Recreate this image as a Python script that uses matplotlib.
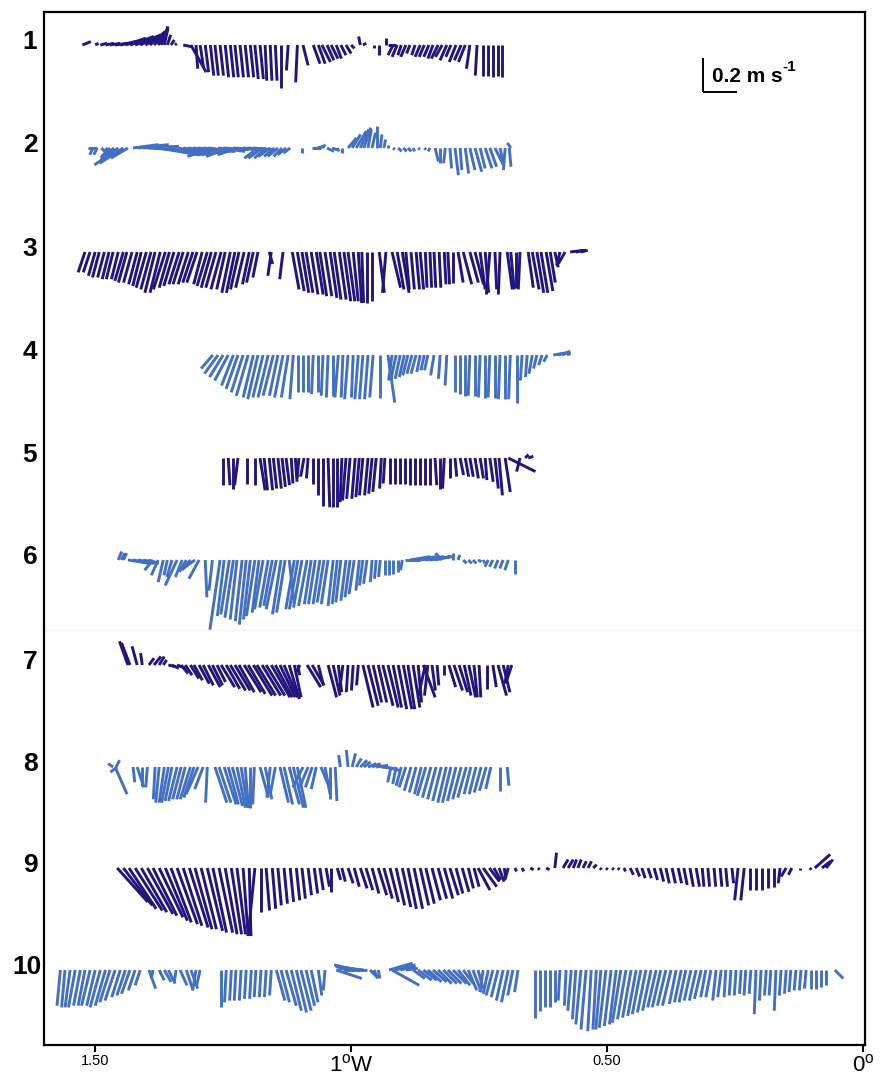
import matplotlib
matplotlib.use("Agg")
import matplotlib.pyplot as plt
from matplotlib.collections import LineCollection

plt.rcParams['font.family'] = ['Liberation Sans', 'DejaVu Sans']
plt.rcParams['mathtext.fontset'] = 'custom'
plt.rcParams['mathtext.rm'] = 'Liberation Sans'
plt.rcParams['mathtext.bf'] = 'Liberation Sans:bold'

# Current vectors along each transect: (longitude in deg W, u east cm/s, v north cm/s)
T1 = [(1.525,5,2),(1.500,2,1),(1.490,4,1),(1.480,5,1),(1.471,6,1),(1.461,7,1),(1.451,9,2),(1.441,12,4),
      (1.432,14,5),(1.422,13,5),(1.412,12,6),(1.402,11,6),(1.393,9,8),(1.385,8,9),(1.377,6,10),(1.371,4,11),
      (1.365,2,9),(1.359,2,6),(1.352,2,3),(1.344,1,1),(1.328,5,-1),(1.313,9,-16),(1.303,1,-14),(1.295,2,-13),
      (1.285,2,-16),(1.275,2,-18),(1.266,2,-18),(1.256,2,-18),(1.246,2,-19),(1.236,2,-19),(1.227,2,-19),
      (1.217,2,-19),(1.207,2,-19),(1.197,2,-19),(1.188,2,-20),(1.178,2,-20),(1.168,1,-21),(1.158,1,-21),
      (1.148,1,-21),(1.137,0,-25),(1.123,-1,-15),(1.105,-1,-22),(1.094,3,-12),(1.074,4,-11),(1.064,4,-11),
      (1.057,5,-10),(1.047,4,-9),(1.039,4,-8),(1.029,3,-8),(1.020,3,-6),(1.010,3,-5),(1.000,2,-2),
      (0.982,-1,5),(0.977,2,1),(0.955,0,-2),(0.945,0,-6),(0.932,0,4),(0.928,5,0),(0.918,-3,-6),(0.910,-3,-7),
      (0.902,-2,-6),(0.893,-3,-7),(0.885,-2,-5),(0.875,-2,-6),(0.865,-3,-7),(0.857,-3,-7),(0.848,-3,-7),
      (0.840,-3,-8),(0.830,-4,-8),(0.822,-4,-7),(0.813,-4,-9),(0.805,-3,-7),(0.795,-4,-10),(0.785,-4,-9),
      (0.777,-4,-10),(0.768,-2,-14),(0.754,-1,-18),(0.742,0,-18),(0.732,0,-18),(0.723,0,-19),(0.713,0,-18),
      (0.705,0,-19)]

T2 = [(1.514,5,0),(1.504,-2,-4),(1.496,-2,-4),(1.488,3,-3),(1.480,4,-4),(1.471,-5,-5),(1.463,-8,-6),
      (1.455,-14,-10),(1.445,-14,-9),(1.436,-10,-6),(1.426,15,2),(1.416,18,2),(1.406,21,1),(1.396,22,-1),
      (1.387,24,-2),(1.377,24,-4),(1.367,22,-4),(1.357,21,-4),(1.348,21,-4),(1.338,20,-4),(1.328,19,-3),
      (1.318,19,-3),(1.309,19,-2),(1.299,18,-2),(1.289,18,-2),(1.279,16,-2),(1.270,-15,-5),(1.260,16,-2),
      (1.250,15,-1),(1.240,-13,-5),(1.230,15,-1),(1.221,-12,-4),(1.211,14,-1),(1.201,13,-1),(1.191,12,-1),
      (1.182,-8,-6),(1.174,-8,-6),(1.166,-7,-6),(1.158,-7,-5),(1.150,-6,-5),(1.143,-6,-5),(1.135,-5,-5),
      (1.127,-5,-4),(1.119,-4,-3),(1.096,0,-3),(1.076,5,0),(1.066,4,1),(1.057,2,2),(1.047,4,-2),(1.037,3,-1),
      (1.027,1,-2),(1.018,0,-3),(1.006,5,6),(0.998,5,8),(0.990,6,10),(0.982,5,11),(0.975,4,12),(0.967,2,11),
      (0.959,2,9),(0.949,0,13),(0.943,1,8),(0.936,1,5),(0.928,0,2),(0.918,1,-1),(0.908,2,-2),(0.898,2,-2),
      (0.889,2,-2),(0.879,1,-2),(0.869,1,-1),(0.857,1,-1),(0.846,-1,-2),(0.836,2,-8),(0.826,0,-9),
      (0.816,-1,-9),(0.807,1,-12),(0.797,2,-16),(0.787,1,-13),(0.777,2,-15),(0.768,3,-13),(0.758,4,-14),
      (0.748,3,-12),(0.738,4,-12),(0.729,4,-11),(0.719,5,-10),(0.709,2,-9),(0.699,-1,-13),(0.691,1,-11),
      (0.688,-2,3)]

T3 = [(1.520,-4,-12),(1.510,-4,-12),(1.500,-4,-14),(1.492,-4,-15),(1.482,-4,-15),(1.473,-4,-16),
      (1.465,-4,-16),(1.455,-4,-16),(1.445,-5,-17),(1.438,-5,-18),(1.428,-5,-18),(1.418,-5,-19),
      (1.410,-5,-20),(1.400,-6,-21),(1.391,-6,-22),(1.383,-6,-24),(1.373,-6,-24),(1.363,-7,-22),
      (1.355,-6,-21),(1.346,-6,-20),(1.336,-6,-19),(1.328,-6,-19),(1.318,-6,-19),(1.309,-6,-18),
      (1.301,-6,-18),(1.291,-5,-19),(1.281,-6,-20),(1.273,-6,-21),(1.264,-6,-21),(1.254,-6,-22),
      (1.246,-5,-22),(1.236,-5,-24),(1.227,-5,-24),(1.219,-5,-22),(1.209,-5,-21),(1.199,-4,-19),
      (1.191,-4,-18),(1.182,-3,-15),(1.160,2,-7),(1.156,-2,-14),(1.133,-2,-16),(1.115,4,-22),(1.105,4,-23),
      (1.096,4,-24),(1.088,4,-24),(1.078,4,-25),(1.068,4,-25),(1.061,4,-26),(1.051,4,-26),(1.041,4,-27),
      (1.033,4,-28),(1.023,4,-28),(1.014,4,-29),(1.006,4,-29),(0.996,3,-29),(0.986,2,-30),(0.979,1,-30),
      (0.969,0,-30),(0.959,0,-29),(0.945,3,-24),(0.932,-2,-24),(0.920,5,-21),(0.910,4,-22),(0.900,4,-24),
      (0.893,2,-22),(0.883,2,-22),(0.873,2,-22),(0.865,2,-22),(0.855,1,-21),(0.846,1,-21),(0.838,1,-21),
      (0.828,1,-21),(0.818,1,-19),(0.811,1,-19),(0.801,0,-18),(0.791,3,-18),(0.781,5,-19),(0.768,5,-18),
      (0.758,5,-19),(0.748,3,-22),(0.738,2,-24),(0.729,-2,-25),(0.719,1,-22),(0.709,-1,-25),(0.695,3,-22),
      (0.688,2,-22),(0.678,0,-21),(0.670,-1,-22),(0.654,3,-21),(0.646,4,-22),(0.637,4,-24),(0.629,4,-24),
      (0.619,4,-23),(0.611,3,-18),(0.602,2,-9),(0.592,-2,-8),(0.582,-4,-7),(0.572,8,1),(0.561,6,1),
      (0.551,4,1)]

T4 = [(1.270,-7,-8),(1.260,-8,-11),(1.250,-8,-13),(1.240,-8,-15),(1.230,-7,-18),(1.221,-7,-20),
      (1.211,-7,-22),(1.201,-7,-24),(1.191,-6,-25),(1.182,-6,-26),(1.172,-6,-25),(1.162,-6,-25),
      (1.152,-6,-24),(1.143,-5,-24),(1.133,-5,-25),(1.123,-4,-25),(1.113,-2,-26),(1.104,0,-22),
      (1.094,0,-22),(1.084,0,-22),(1.074,-1,-23),(1.064,0,-22),(1.055,-1,-24),(1.045,-1,-25),(1.035,0,-24),
      (1.025,-2,-25),(1.016,-1,-25),(1.006,-2,-26),(0.996,-1,-25),(0.986,-2,-26),(0.977,-2,-26),
      (0.967,-2,-26),(0.957,-2,-25),(0.943,0,-25),(0.928,4,-28),(0.920,-2,-15),(0.912,-3,-14),
      (0.904,-3,-14),(0.896,-3,-13),(0.889,-3,-12),(0.881,-3,-11),(0.873,-3,-11),(0.865,-2,-10),
      (0.857,-2,-9),(0.850,-2,-9),(0.838,-2,-12),(0.826,-1,-14),(0.813,-1,-18),(0.797,0,-22),(0.787,0,-23),
      (0.777,0,-24),(0.768,-1,-24),(0.758,0,-24),(0.748,-1,-25),(0.738,0,-25),(0.729,-1,-25),(0.719,0,-25),
      (0.709,-1,-26),(0.699,0,-26),(0.689,-1,-26),(0.676,0,-28),(0.666,-1,-15),(0.656,-1,-13),(0.646,-2,-11),
      (0.637,-2,-8),(0.627,-2,-6),(0.617,-2,-4),(0.605,6,1),(0.596,7,2),(0.588,5,2),(0.578,2,1)]

T5 = [(1.250,0,-16),(1.240,1,-16),(1.230,0,-18),(1.221,-2,-16),(1.203,0,-15),(1.188,0,-16),(1.178,3,-19),
      (1.170,2,-19),(1.160,2,-19),(1.152,2,-18),(1.143,2,-18),(1.135,2,-17),(1.127,2,-16),(1.117,1,-15),
      (1.109,1,-14),(1.102,-1,-12),(1.092,-2,-11),(1.084,-1,-12),(1.074,0,-15),(1.064,0,-22),(1.055,0,-28),
      (1.045,1,-29),(1.035,0,-29),(1.027,0,-29),(1.018,-1,-26),(1.010,-2,-25),(1.002,-2,-24),(0.992,-2,-24),
      (0.984,-2,-23),(0.977,-2,-22),(0.967,-2,-22),(0.959,-2,-21),(0.951,-2,-20),(0.941,-1,-18),
      (0.934,-1,-15),(0.924,0,-15),(0.914,0,-15),(0.904,0,-15),(0.895,0,-15),(0.885,0,-16),(0.875,0,-16),
      (0.865,0,-16),(0.855,0,-16),(0.846,0,-16),(0.836,1,-16),(0.826,0,-18),(0.818,-1,-18),(0.807,0,-12),
      (0.797,1,-11),(0.787,2,-10),(0.777,2,-11),(0.768,2,-11),(0.758,2,-12),(0.748,2,-12),(0.738,1,-13),
      (0.729,2,-14),(0.719,2,-18),(0.711,2,-22),(0.699,3,-20),(0.693,16,-8),(0.670,-2,-8),(0.660,2,2),
      (0.654,3,1)]

T6 = [(1.455,2,5),(1.449,2,4),(1.445,2,4),(1.436,13,-2),(1.426,12,-2),(1.416,11,-2),(1.406,9,-2),
      (1.396,6,-2),(1.387,-5,-6),(1.377,-4,-9),(1.367,-3,-13),(1.359,-2,-9),(1.350,-3,-10),(1.340,-7,-15),
      (1.330,-4,-10),(1.322,-4,-7),(1.314,-5,-6),(1.305,-7,-5),(1.297,-6,-11),(1.285,1,-22),(1.271,-2,-18),
      (1.256,-6,-41),(1.248,-4,-33),(1.238,-5,-32),(1.230,-5,-34),(1.223,-4,-35),(1.213,-4,-36),
      (1.205,-4,-38),(1.197,-4,-35),(1.188,-5,-33),(1.180,-4,-31),(1.172,-5,-29),(1.162,-5,-28),
      (1.154,-5,-27),(1.146,-6,-29),(1.137,-5,-32),(1.129,-5,-31),(1.121,3,-26),(1.111,-5,-29),
      (1.104,-5,-29),(1.096,-5,-28),(1.086,-5,-27),(1.078,-4,-26),(1.070,-4,-26),(1.061,-4,-26),
      (1.053,-4,-25),(1.045,-4,-26),(1.035,-3,-27),(1.027,-3,-26),(1.020,-3,-25),(1.010,-3,-24),
      (1.002,-3,-22),(0.994,-3,-20),(0.984,-2,-18),(0.977,-2,-15),(0.969,-2,-14),(0.959,-1,-13),
      (0.951,-1,-11),(0.943,-1,-10),(0.934,0,-9),(0.926,0,-9),(0.918,0,-8),(0.908,0,-7),(0.900,-1,-6),
      (0.895,9,0),(0.885,12,2),(0.875,13,2),(0.865,14,2),(0.855,15,2),(0.846,13,2),(0.836,9,2),(0.822,-4,4),
      (0.801,0,4),(0.791,1,3),(0.781,2,-2),(0.771,2,-2),(0.762,2,-2),(0.752,2,-1),(0.742,1,-2),(0.732,-2,-4),
      (0.723,-2,-4),(0.713,-2,-5),(0.703,-2,-5),(0.693,-2,-6),(0.680,0,-8)]

T7 = [(1.436,-5,14),(1.432,-5,13),(1.418,-3,11),(1.408,-1,7),(1.395,3,4),(1.385,4,5),(1.375,3,5),
      (1.367,2,3),(1.357,4,-1),(1.350,4,-2),(1.340,5,-2),(1.332,4,-5),(1.324,4,-6),(1.314,5,-8),(1.307,5,-9),
      (1.297,6,-11),(1.289,6,-12),(1.279,7,-13),(1.271,6,-12),(1.262,5,-10),(1.254,8,-13),(1.244,8,-14),
      (1.236,9,-15),(1.227,9,-15),(1.219,9,-16),(1.209,10,-16),(1.201,10,-17),(1.191,11,-18),(1.184,11,-18),
      (1.174,11,-18),(1.166,11,-18),(1.156,11,-19),(1.148,10,-19),(1.139,9,-19),(1.131,8,-19),(1.121,6,-20),
      (1.111,4,-19),(1.104,1,-6),(1.100,-2,-4),(1.086,8,-13),(1.076,7,-12),(1.064,3,-12),(1.045,5,-19),
      (1.035,4,-18),(1.025,2,-16),(1.016,-2,-15),(1.006,-1,-16),(0.996,-1,-15),(0.986,-1,-12),(0.977,6,-25),
      (0.967,6,-24),(0.957,5,-22),(0.947,5,-22),(0.938,6,-24),(0.928,6,-25),(0.918,5,-25),(0.908,5,-26),
      (0.898,5,-26),(0.889,4,-26),(0.879,4,-25),(0.869,2,-22),(0.859,7,-19),(0.855,-4,-18),(0.850,-2,-18),
      (0.842,2,-15),(0.832,1,-12),(0.818,0,-6),(0.809,4,-13),(0.799,5,-15),(0.789,5,-16),(0.779,4,-18),
      (0.770,4,-19),(0.760,2,-19),(0.750,1,-19),(0.734,0,-14),(0.723,2,-13),(0.713,5,-18),(0.703,4,-16),
      (0.693,-2,-11),(0.686,-3,-9)]

T8 = [(1.465,-3,2),(1.461,7,-16),(1.459,2,4),(1.457,-4,-3),(1.426,1,-9),(1.418,4,-12),(1.408,0,-11),
      (1.398,-1,-12),(1.383,-1,-19),(1.375,-2,-21),(1.365,-3,-21),(1.357,-4,-21),(1.350,-4,-20),
      (1.340,-5,-20),(1.332,-5,-19),(1.324,-5,-19),(1.314,-6,-19),(1.307,-6,-18),(1.299,-7,-16),
      (1.289,-5,-13),(1.281,-1,-21),(1.266,7,-21),(1.258,7,-21),(1.248,7,-22),(1.240,6,-22),(1.232,6,-23),
      (1.223,5,-24),(1.215,4,-24),(1.207,2,-24),(1.197,0,-24),(1.189,-1,-22),(1.178,5,-18),(1.168,4,-19),
      (1.158,-2,-18),(1.148,-3,-16),(1.139,5,-21),(1.131,5,-22),(1.121,6,-22),(1.113,6,-24),(1.105,5,-24),
      (1.094,-6,-12),(1.084,-5,-12),(1.076,-4,-12),(1.068,-3,-13),(1.059,5,-12),(1.051,3,-16),(1.041,0,-19),
      (1.031,1,-20),(1.021,-1,7),(1.006,-1,10),(0.998,2,8),(0.990,3,5),(0.982,4,4),(0.975,4,3),(0.967,5,2),
      (0.959,5,2),(0.951,7,1),(0.941,8,-1),(0.932,8,-2),(0.922,-2,-9),(0.912,-2,-10),(0.902,-3,-11),
      (0.893,-4,-12),(0.883,-4,-14),(0.873,-4,-15),(0.863,-4,-16),(0.854,-5,-17),(0.844,-5,-18),
      (0.834,-5,-19),(0.824,-5,-20),(0.814,-5,-21),(0.805,-5,-21),(0.795,-5,-20),(0.785,-5,-19),
      (0.775,-5,-18),(0.766,-4,-16),(0.756,-4,-16),(0.746,-4,-15),(0.736,-4,-14),(0.727,-3,-13),
      (0.709,0,-14),(0.695,1,-11)]

T9 = [(1.457,18,-20),(1.445,17,-22),(1.434,16,-24),(1.422,16,-25),(1.410,15,-26),(1.398,15,-27),
      (1.387,14,-28),(1.375,14,-29),(1.363,13,-31),(1.352,12,-32),(1.340,12,-33),(1.328,11,-34),
      (1.316,11,-35),(1.305,10,-36),(1.293,9,-36),(1.281,9,-37),(1.270,8,-38),(1.258,8,-38),(1.246,7,-39),
      (1.234,6,-39),(1.223,5,-39),(1.211,3,-40),(1.199,1,-40),(1.188,-4,-40),(1.176,0,-26),(1.166,2,-25),
      (1.154,2,-24),(1.143,2,-22),(1.131,2,-21),(1.119,2,-20),(1.107,2,-19),(1.096,2,-18),(1.084,2,-16),
      (1.072,2,-15),(1.061,2,-13),(1.049,2,-11),(1.039,0,-14),(1.027,2,-7),(1.018,2,-8),(1.006,3,-9),
      (0.994,3,-11),(0.982,4,-12),(0.971,4,-13),(0.959,4,-15),(0.947,5,-16),(0.936,5,-18),(0.924,5,-20),
      (0.912,5,-22),(0.900,5,-23),(0.889,5,-24),(0.877,5,-24),(0.865,5,-22),(0.854,5,-21),(0.842,5,-19),
      (0.830,5,-18),(0.818,5,-18),(0.807,5,-16),(0.795,4,-15),(0.783,4,-14),(0.771,3,-12),(0.760,3,-11),
      (0.752,7,-13),(0.742,8,-11),(0.730,6,-8),(0.721,4,-7),(0.711,3,-8),(0.701,1,-6),(0.693,-2,-7),
      (0.680,1,-2),(0.666,1,-2),(0.650,2,-1),(0.635,1,-1),(0.619,2,-1),(0.602,1,9),(0.586,3,5),(0.576,3,5),
      (0.566,2,5),(0.557,2,5),(0.547,2,4),(0.537,2,4),(0.527,2,2),(0.514,1,-1),(0.502,1,-1),(0.490,1,-1),
      (0.479,1,-1),(0.467,1,-2),(0.455,2,-4),(0.443,2,-5),(0.432,2,-6),(0.420,2,-6),(0.408,2,-7),
      (0.396,2,-8),(0.385,2,-9),(0.373,2,-9),(0.361,2,-9),(0.350,2,-10),(0.338,2,-11),(0.326,2,-11),
      (0.314,1,-11),(0.303,1,-11),(0.291,1,-11),(0.279,1,-11),(0.268,1,-11),(0.256,1,-9),(0.244,-2,-19),
      (0.232,-2,-19),(0.221,0,-13),(0.209,0,-13),(0.197,0,-13),(0.186,0,-12),(0.174,0,-11),(0.162,-1,-9),
      (0.150,-3,-5),(0.139,-2,-4),(0.123,0,-1),(0.104,1,-1),(0.094,9,8),(0.080,5,4),(0.072,4,5)]

T10 = [(1.568,-2,-21),(1.559,-2,-22),(1.549,-3,-22),(1.539,-4,-22),(1.529,-4,-21),(1.520,-4,-21),
       (1.510,-5,-21),(1.500,-5,-21),(1.490,-6,-22),(1.480,-6,-21),(1.471,-6,-19),(1.461,-6,-18),
       (1.451,-5,-16),(1.441,-5,-15),(1.432,-5,-14),(1.422,-4,-12),(1.412,-3,-9),(1.395,4,-11),(1.387,-1,-5),
       (1.375,3,-6),(1.365,4,-7),(1.357,4,-8),(1.342,-1,-7),(1.334,4,-9),(1.322,4,-12),(1.313,4,-11),
       (1.303,-2,-12),(1.295,-2,-9),(1.254,0,-22),(1.244,-1,-19),(1.234,-1,-18),(1.225,-1,-18),
       (1.215,-1,-18),(1.205,-1,-17),(1.195,-1,-17),(1.186,-1,-16),(1.176,-1,-16),(1.166,-1,-16),
       (1.156,-1,-15),(1.146,5,-18),(1.137,5,-19),(1.127,6,-21),(1.117,6,-24),(1.107,6,-25),(1.098,6,-24),
       (1.088,5,-21),(1.078,4,-19),(1.064,2,-15),(1.051,-1,-12),(1.029,15,-5),(0.990,-13,3),(0.984,-14,2),
       (0.979,-14,2),(0.975,-15,1),(0.969,-14,0),(0.963,4,-4),(0.955,2,-5),(0.947,1,-5),(0.926,14,4),
       (0.920,16,-9),(0.914,12,3),(0.904,9,2),(0.893,7,1),(0.879,7,-5),(0.869,8,-6),(0.859,8,-6),(0.850,8,-7),
       (0.840,8,-7),(0.830,8,-8),(0.820,8,-8),(0.811,8,-8),(0.801,8,-8),(0.791,7,-9),(0.781,6,-8),
       (0.771,5,-12),(0.762,5,-13),(0.752,3,-11),(0.742,-2,-13),(0.732,-3,-14),(0.723,-4,-15),(0.713,-4,-16),
       (0.703,-4,-18),(0.693,-4,-19),(0.684,-3,-15),(0.674,-2,-13),(0.641,0,-28),(0.631,0,-24),(0.621,0,-22),
       (0.611,0,-22),(0.602,0,-19),(0.592,-1,-18),(0.580,-1,-21),(0.570,-2,-24),(0.561,-2,-29),(0.551,-3,-32),
       (0.541,-3,-35),(0.531,-2,-36),(0.521,-2,-35),(0.512,-3,-35),(0.502,-4,-34),(0.492,-4,-33),
       (0.482,-4,-32),(0.473,-5,-31),(0.463,-5,-29),(0.453,-5,-28),(0.443,-5,-27),(0.434,-5,-26),
       (0.424,-5,-25),(0.414,-5,-24),(0.404,-5,-22),(0.395,-5,-22),(0.385,-5,-21),(0.375,-5,-21),
       (0.365,-4,-20),(0.355,-4,-19),(0.346,-4,-19),(0.336,-4,-18),(0.326,-4,-18),(0.316,-4,-17),
       (0.307,-3,-16),(0.297,-3,-16),(0.287,-2,-18),(0.277,-2,-16),(0.268,-1,-16),(0.258,-1,-15),
       (0.248,-1,-15),(0.238,-1,-14),(0.229,-1,-15),(0.219,-1,-14),(0.209,-1,-26),(0.199,-1,-18),
       (0.189,-1,-15),(0.180,-1,-15),(0.170,-1,-24),(0.160,-1,-15),(0.150,-1,-14),(0.141,-1,-13),
       (0.131,-1,-12),(0.121,-1,-12),(0.111,-1,-11),(0.102,0,-11),(0.092,0,-11),(0.082,0,-10),(0.072,0,-9),
       (0.055,5,-5)]

TRANSECTS = [T1, T2, T3, T4, T5, T6, T7, T8, T9, T10]
ROW_LABELS = ['1', '2', '3', '4', '5', '6', '7', '8', '9', '10']
X_TICKS = [1.5, 1.0, 0.5, 0.0]
X_TICK_LABELS = ['1.50', r'1$^{\mathrm{o}}$W', '0.50', r'0$^{\mathrm{o}}$']
SCALE_SPEED = 20  # cm/s  (0.2 m/s)

DARK = '#21157f'
LIGHT = '#4370c4'

# ---- layout (figure pixels) ----
FIG_W, FIG_H = 880, 1076
AX_L, AX_R, AX_T, AX_B = 44, 865, 12, 1045
PX_PER_CMS = 1.7                     # 20 cm/s -> 34 px
LON_LEFT, LON_RIGHT = 1.6, -0.004
BASE_PX = [45, 148, 252, 355, 458, 560, 665, 767, 868, 970]
LABEL_X_PX = [30, 30, 30, 30, 30, 30, 30, 30, 30, 27]

fig = plt.figure(figsize=(FIG_W / 100, FIG_H / 100), dpi=100)
ax = fig.add_axes([AX_L / FIG_W, 1 - AX_B / FIG_H, (AX_R - AX_L) / FIG_W, (AX_B - AX_T) / FIG_H])
ax_h_px = AX_B - AX_T
ax_w_px = AX_R - AX_L
ax.set_xlim(LON_LEFT, LON_RIGHT)
ax.set_ylim(-ax_h_px / PX_PER_CMS, 0)

# degrees of longitude per cm/s so that the sticks keep true direction
deg_per_px = (LON_LEFT - LON_RIGHT) / ax_w_px
KX = deg_per_px * PX_PER_CMS


def y_of(px):
    return -(px - AX_T) / PX_PER_CMS


# faint seam between the two halves of the panel
ax.axhline(y_of(630), color='#f1f1f1', lw=0.8, zorder=0)

for i, rows in enumerate(TRANSECTS):
    yb = y_of(BASE_PX[i])
    segs = [[(lon, yb), (lon - u * KX, yb + v)] for lon, u, v in rows]
    lc = LineCollection(segs, colors=DARK if i % 2 == 0 else LIGHT,
                        linewidths=2.1, capstyle='butt')
    ax.add_collection(lc)
    fig.text(LABEL_X_PX[i] / FIG_W, 1 - (BASE_PX[i] - 3) / FIG_H, ROW_LABELS[i],
             ha='center', va='center', fontsize=19, fontweight='bold')

# velocity scale bar
sx = (863 - 703) / 512.0
sy = y_of(92)
ax.plot([sx, sx], [sy, sy + SCALE_SPEED], color='black', lw=1.4, solid_capstyle='butt')
ax.plot([sx, sx - SCALE_SPEED * KX], [sy, sy], color='black', lw=1.4, solid_capstyle='butt')
t_main = ax.text(sx - 9 * deg_per_px, y_of(76), '0.2 m s', ha='left', va='center',
                 fontsize=15, fontweight='bold')
ax.annotate('-1', xy=(1.0, 0.95), xycoords=t_main, xytext=(-0.5, 0), textcoords='offset points',
            ha='left', va='center', fontsize=11, fontweight='bold')

ax.set_xticks(X_TICKS)
ax.set_xticklabels(X_TICK_LABELS)
for lab, fs in zip(ax.get_xticklabels(), [10.5, 16, 10.5, 16]):
    lab.set_fontsize(fs)
ax.set_yticks([])
ax.tick_params(axis='x', direction='out', length=5, width=1.5, pad=1.5)
for sp in ax.spines.values():
    sp.set_linewidth(1.6)
    sp.set_color('black')

fig.savefig('out.png', dpi=100)
